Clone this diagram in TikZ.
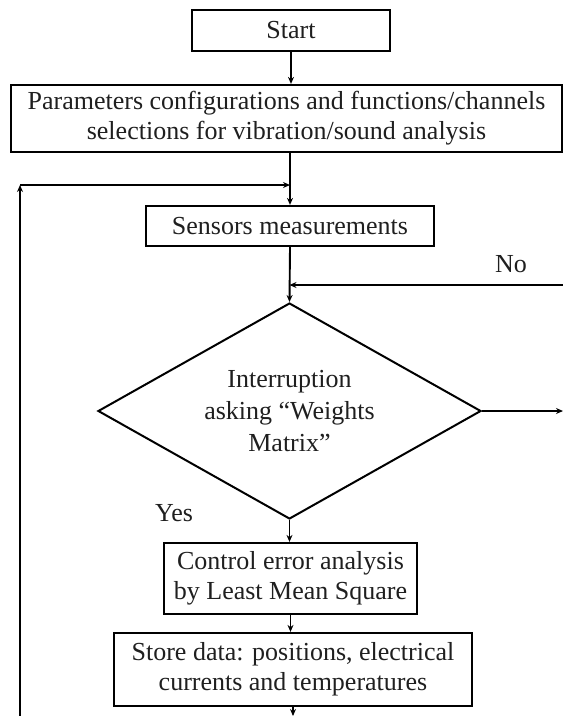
\documentclass[tikz,border=0pt]{standalone}
\usepackage{fontspec}
\setmainfont{Liberation Serif}
\usetikzlibrary{shapes.geometric,arrows.meta}
\begin{document}
\begin{tikzpicture}[x=1pt,y=-1pt,
  box/.style={draw,line width=2.2pt,inner sep=0pt,align=center,
    font=\fontsize{26}{30}\selectfont,text=black!88},
  dia/.style={draw,diamond,line width=2pt,inner sep=0pt,align=center,
    aspect=1.77,font=\fontsize{26}{32}\selectfont,text=black!88},
  flow/.style={line width=1.9pt,-{Stealth[length=7pt,width=6pt]}},
  lbl/.style={font=\fontsize{26}{30}\selectfont,text=black!88}]
\useasboundingbox (0,0) rectangle (563,716);
\node[box,minimum width=198pt,minimum height=41pt] (start) at (291,30.5) {Start};
\node[box,minimum width=551pt,minimum height=67pt] (params) at (286.5,118.5)
  {Parameters configurations and functions/channels\\selections for vibration/sound analysis};
\node[box,minimum width=288pt,minimum height=40pt] (sensors) at (290,226) {Sensors measurements};
\node[dia,minimum width=383pt,minimum height=216pt] (inter) at (289.5,411)
  {Interruption\\asking \char"201C Weights\\Matrix\char"201D};
\node[box,minimum width=253pt,minimum height=71pt] (control) at (290.5,578.5)
  {Control error analysis\\by Least Mean Square};
\node[box,minimum width=358pt,minimum height=73pt] (store) at (293,669.5)
  {Store data: positions, electrical\\currents and temperatures};
\node[lbl] (no) at (511,264) {No};
\node[lbl] (yes) at (174,513) {Yes};
\coordinate (noin) at (563,285);
\coordinate (noout) at (563,411);
\coordinate (loopbot) at (20,716);
\coordinate (corner) at (20,185);
\coordinate (botend) at (293,716);
\draw[flow] (start.south) -- (start.south |- params.north);
\draw[flow] (params.south -| sensors.north) -- (sensors.north);
\draw[flow] (loopbot) -- (corner);
\draw[flow] (corner) -- (corner -| sensors.north);
\draw[flow] (sensors.south) -- (inter.north);
\draw[flow] (noin) -- (noin -| inter.north);
\draw[flow] (inter.east) -- (noout);
\draw[flow] (inter.south) -- (inter.south |- control.north);
\draw[flow] (control.south) -- (control.south |- store.north);
\draw[flow] (store.south) -- (botend);
\end{tikzpicture}
\end{document}
